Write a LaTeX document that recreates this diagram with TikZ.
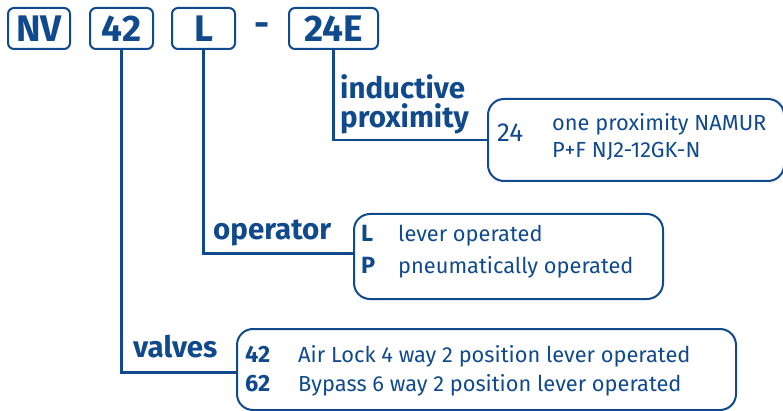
\documentclass[tikz,border=0pt]{standalone}
\usepackage{fontspec}
\setmainfont{Fira Sans}
\definecolor{nvblue}{RGB}{16,74,140}
\begin{document}
\begin{tikzpicture}[x=1pt,y=-1pt,
 every node/.style={text=nvblue},
 hbox/.style={draw=nvblue,line width=2pt,rounded corners=6pt,minimum height=41pt,inner sep=0pt,font=\fontsize{37}{37}\selectfont\bfseries},
 ibox/.style={draw=nvblue,line width=2pt,rounded corners=16pt,inner sep=0pt,anchor=north west},
 conn/.style={draw=nvblue,line width=2.5pt},
 lab/.style={font=\fontsize{29.5}{30}\selectfont\bfseries,anchor=base west,inner sep=0pt},
 key/.style={font=\fontsize{23.5}{24}\selectfont\bfseries,anchor=base west,inner sep=0pt},
 desc/.style={font=\fontsize{21.8}{22}\selectfont,anchor=base west,inner sep=0pt}]
\useasboundingbox (0,0) rectangle (783,411);
% header boxes
\node[hbox,minimum width=62pt] (nv) at (39,28.5) {NV};
\node[hbox,minimum width=63pt] (v42) at (121.5,28.5) {42};
\node[hbox,minimum width=63pt] (op) at (203.5,28.5) {L};
\node[font=\fontsize{37}{37}\selectfont\bfseries,inner sep=0pt] (dash) at (262,30) {-};
\node[hbox,minimum width=89pt] (sw) at (333.5,28.5) {24E};
% info boxes
\node[ibox,minimum width=296pt,minimum height=82pt] (pbox) at (487,98) {};
\node[ibox,minimum width=309pt,minimum height=85pt] (obox) at (353,213) {};
\node[ibox,minimum width=499pt,minimum height=81pt] (vbox) at (236,328) {};
% connectors
\draw[conn] (sw.south) |- (pbox.west);
\draw[conn] (op.south) |- ([yshift=3pt]obox.west);
\draw[conn] (v42.south) |- ([yshift=-3pt]vbox.west);
% labels
\node[lab] (lind) at (340,99) {inductive};
\node[lab] (lprox) at (340,128) {proximity};
\node[lab] (lop) at (213,240) {operator};
\node[lab] (lval) at (133,357) {valves};
% proximity
\node[font=\fontsize{26}{26}\selectfont,anchor=base west,inner sep=0pt] (p24) at (497,142) {24};
\node[desc] (pd1) at (552,131) {one proximity NAMUR};
\node[desc] (pd2) at (552,158) {P+F NJ2-12GK-N};
% operator
\node[key] (ok1) at (361,242) {L};
\node[desc] (od1) at (398,242) {lever operated};
\node[key] (ok2) at (361,273) {P};
\node[desc] (od2) at (398,273) {pneumatically operated};
% valves
\node[key] (vk1) at (245,362) {42};
\node[desc] (vd1) at (298,362) {Air Lock 4 way 2 position lever operated};
\node[key] (vk2) at (245,391) {62};
\node[desc] (vd2) at (298,391) {Bypass 6 way 2 position lever operated};
\end{tikzpicture}
\end{document}
